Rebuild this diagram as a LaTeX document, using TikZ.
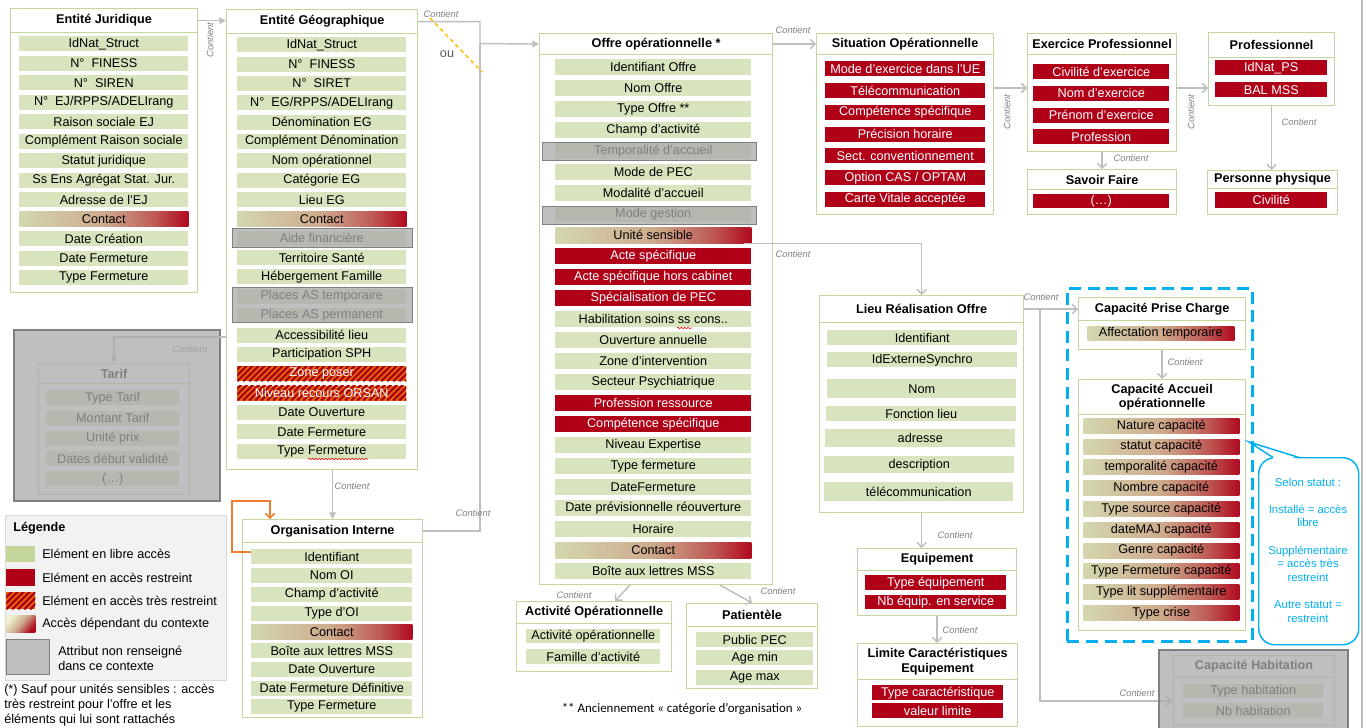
\documentclass[tikz,border=0pt]{standalone}
\usepackage{fontspec}
\setmainfont{Liberation Sans}
\newfontfamily\carlfont{Carlito}
\usetikzlibrary{arrows.meta,calc,decorations.pathmorphing}
\definecolor{cgreen}{RGB}{215,228,189}
\definecolor{cgreenl}{RGB}{196,215,155}
\definecolor{cred}{RGB}{176,0,24}
\definecolor{corange}{RGB}{228,108,10}
\definecolor{cborder}{RGB}{195,214,155}
\definecolor{cline}{RGB}{190,190,190}
\definecolor{clbl}{RGB}{128,128,128}
\definecolor{covgray}{RGB}{170,170,170}
\definecolor{covborder}{RGB}{128,128,128}
\definecolor{ccyan}{RGB}{0,176,240}
\definecolor{cyel}{RGB}{255,192,0}
\definecolor{corg}{RGB}{237,125,49}
\definecolor{clegbg}{RGB}{242,242,242}
\definecolor{clegbd}{RGB}{217,217,217}
\definecolor{cgraysw}{RGB}{191,191,191}
\definecolor{ctx0}{RGB}{212,215,175}
\definecolor{ctx1}{RGB}{205,170,140}
\definecolor{ctx2}{RGB}{190,90,85}
\definecolor{ctx3}{RGB}{176,10,30}
\definecolor{cpale}{RGB}{240,240,210}
\pgfdeclarehorizontalshading{ctx}{100bp}{color(0bp)=(ctx0); color(25bp)=(ctx0); color(50bp)=(ctx1); color(65bp)=(ctx2); color(75bp)=(ctx3); color(100bp)=(ctx3)}
\pgfdeclarehorizontalshading{ctxleg}{100bp}{color(0bp)=(cpale); color(25bp)=(cpale); color(50bp)=(ctx1); color(75bp)=(ctx3); color(100bp)=(ctx3)}
\newcommand\rfnt{\fontsize{9.5}{11}\selectfont}
\newcommand\bx[7][]{\node[#1, inner sep=0pt, anchor=north west, minimum width={(#5-(#3))*0.75pt}, minimum height={(#6-(#4))*0.75pt}] (#2) at (#3,#4) {#7};}
\newcommand\rowlist[7]{%
  \foreach \st/\tx [count=\ii from 0] in {#7}{%
    \pgfmathsetmacro\yy{#4+\ii*#5}%
    \pgfmathsetmacro\yb{\yy+#6}%
    \expandafter\bx\expandafter[\st]{#1\ii}{#2}{\yy}{#3}{\yb}{\tx}}}
\begin{document}
\begin{tikzpicture}[x=0.75pt,y=-0.75pt,
  conn/.style={draw=cline, line width=1.1pt},
  tri/.style={-{Triangle[length=5pt,width=5pt]}},
  opn/.style={-{Straight Barb[length=3.5pt,width=7pt]}},
  lbl/.style={font=\fontsize{7}{8}\selectfont\itshape, text=clbl, inner sep=0pt},
  bodyb/.style={draw=cborder, fill=white, line width=0.9pt},
  hdr/.style={draw=cborder, fill=white, line width=0.9pt, font=\rfnt\bfseries},
  rowg/.style={fill=cgreen, font=\rfnt},
  rowr/.style={fill=cred, text=white, font=\rfnt},
  rowh/.style={fill=corange, text=white, font=\rfnt,
    path picture={\foreach \k in {0,6,...,240}{\draw[cred, line width=1.7pt] ($(path picture bounding box.south west)+(\k-30,0)$) -- ++(30,-30);}}},
  rowc/.style={shading=ctx, font=\rfnt},
  ov/.style={fill=covgray, fill opacity=0.75, draw=covborder, line width=1.1pt},
  ovbig/.style={fill=covgray, fill opacity=0.75, draw=covborder, line width=1.5pt},
  capd/.style={draw=ccyan, line width=2.2pt, dash pattern=on 9pt off 5pt},
  callout/.style={draw=ccyan, line width=1.1pt, rounded corners=12pt, fill=white},
  calltxt/.style={font=\fontsize{8.5}{10.2}\selectfont, text=ccyan, align=center},
  legtxt/.style={font=\rfnt, anchor=west, inner sep=0pt},
  squig/.style={draw=red, line width=0.4pt, decorate, decoration={snake, amplitude=0.6pt, segment length=2.5pt}},
  ydash/.style={draw=cyel, line width=1.1pt, dash pattern=on 3pt off 2.5pt},
]
\useasboundingbox (0,0) rectangle (1367,728);
\fill[white] (0,0) rectangle (1367,728);
\coordinate (rtop) at (1362,0); \coordinate (rbot) at (1362,728);
\draw[cline, line width=0.8pt] (rtop) -- (rbot);

% ---------- Entite Juridique
\bx[bodyb]{ejb}{10}{32}{197}{292}{}
\bx[hdr]{ejh}{10}{8}{197}{32}{Entité Juridique}
\rowlist{ej}{19}{188}{36}{19.5}{15}{rowg/IdNat\_Struct, rowg/N°~~FINESS, rowg/N°~~SIREN, rowg/{N°~~EJ/RPPS/ADELIrang}, rowg/Raison sociale EJ, rowg/Complément Raison sociale, rowg/Statut juridique, rowg/Ss Ens Agrégat Stat. Jur., rowg/Adresse de l’EJ, rowc/Contact, rowg/Date Création, rowg/Date Fermeture, rowg/Type Fermeture}

% ---------- Entite Geographique
\bx[bodyb]{egb}{226}{33}{417}{469}{}
\bx[hdr]{egh}{226}{9}{417}{33}{Entité Géographique}
\rowlist{eg}{237}{406}{37}{19.35}{15}{rowg/IdNat\_Struct, rowg/N°~~FINESS, rowg/N°~~SIRET, rowg/{N°~~EG/RPPS/ADELIrang}, rowg/Dénomination EG, rowg/Complément Dénomination, rowg/Nom opérationnel, rowg/Catégorie EG, rowg/Lieu EG, rowc/Contact, rowg/Aide financière, rowg/Territoire Santé, rowg/Hébergement Famille, rowg/Places AS temporaire, rowg/Places AS permanent, rowg/Accessibilité lieu, rowg/Participation SPH, rowh/Zone poser, rowh/Niveau recours ORSAN, rowg/Date Ouverture, rowg/Date Fermeture, rowg/Type Fermeture}
\bx[ov]{egov1}{232}{228}{412}{247}{}
\bx[ov]{egov2}{232}{287}{412}{322}{}
\coordinate (sq1a) at (308,459); \coordinate (sq1b) at (368,459);
\draw[squig] (sq1a) -- (sq1b);

% ---------- Offre operationnelle
\bx[bodyb]{offb}{539}{54}{772}{584}{}
\bx[hdr]{offh}{539}{33}{772}{54}{Offre opérationnelle *}
\rowlist{off}{555}{751}{59}{21}{16}{rowg/Identifiant Offre, rowg/Nom Offre, rowg/Type Offre **, rowg/Champ d'activité, rowg/Temporalité d’accueil, rowg/Mode de PEC, rowg/Modalité d'accueil, rowg/Mode gestion, rowc/Unité sensible, rowr/Acte spécifique, rowr/Acte spécifique hors cabinet, rowr/Spécialisation de PEC, rowg/Habilitation soins ss cons.., rowg/Ouverture annuelle, rowg/Zone d’intervention, rowg/Secteur Psychiatrique, rowr/Profession ressource, rowr/Compétence spécifique, rowg/Niveau Expertise, rowg/Type fermeture, rowg/DateFermeture, rowg/Date prévisionnelle réouverture, rowg/Horaire, rowc/Contact, rowg/Boîte aux lettres MSS}
\bx[ov]{offov1}{542}{142}{756}{160}{}
\bx[ov]{offov2}{542}{206}{756}{224}{}
\coordinate (sq2a) at (677,328); \coordinate (sq2b) at (692,328);
\draw[squig] (sq2a) -- (sq2b);

% ---------- Situation operationnelle
\bx[bodyb]{sitb}{816}{54}{993}{214}{}
\bx[hdr]{sith}{816}{33}{993}{54}{Situation Opérationnelle}
\rowlist{sit}{825}{985}{61}{21.8}{15}{rowr/Mode d’exercice dans l’UE, rowr/Télécommunication, rowr/Compétence spécifique, rowr/Précision horaire, rowr/Sect. conventionnement, rowr/{Option CAS / OPTAM}, rowr/Carte Vitale acceptée}

% ---------- Exercice professionnel
\bx[bodyb]{exb}{1027}{54}{1176}{151}{}
\bx[hdr]{exh}{1027}{33}{1176}{54}{Exercice Professionnel}
\rowlist{ex}{1033}{1169}{64}{21.7}{15}{rowr/Civilité d’exercice, rowr/Nom d’exercice, rowr/Prénom d’exercice, rowr/Profession}
\bx[bodyb]{svb}{1027}{189}{1176}{214}{}
\bx[hdr]{svh}{1027}{169}{1176}{189}{Savoir Faire}
\bx[rowr]{sv0}{1033}{194}{1169}{208}{(…)}

% ---------- Professionnel
\bx[bodyb]{prb}{1208}{57}{1334}{105}{}
\bx[hdr]{prh}{1208}{32}{1334}{57}{Professionnel}
\rowlist{pr}{1215}{1327}{60}{22}{15}{rowr/IdNat\_PS, rowr/BAL MSS}
\bx[bodyb]{ppb}{1207}{188}{1337}{214}{}
\bx[hdr]{pph}{1207}{170}{1337}{188}{Personne physique}
\bx[rowr]{pp0}{1215}{192}{1327}{208}{Civilité}

% ---------- Lieu realisation offre
\bx[bodyb]{lrb}{819}{322}{1023}{512}{}
\bx[hdr]{lrh}{819}{295}{1023}{322}{Lieu Réalisation Offre}
\bx[rowg]{lr0}{827}{330}{1017}{345}{Identifiant}
\bx[rowg]{lr1}{827}{352}{1017}{367}{IdExterneSynchro}
\bx[rowg]{lr2}{827}{379}{1016}{398}{Nom}
\bx[rowg]{lr3}{826}{406}{1016}{421}{Fonction lieu}
\bx[rowg]{lr4}{825}{429}{1015}{447}{adresse}
\bx[rowg]{lr5}{824}{456}{1014}{473}{description}
\bx[rowg]{lr6}{824}{482}{1013}{501}{télécommunication}

% ---------- Equipement
\bx[bodyb]{eqb}{857}{570}{1016}{615}{}
\bx[hdr]{eqh}{857}{548}{1016}{570}{Equipement}
\bx[rowr]{eq0}{865}{575}{1006}{590}{Type équipement}
\bx[rowr]{eq1}{865}{595}{1006}{609}{Nb équip. en service}
\bx[bodyb]{lmb}{857}{679}{1017}{726}{}
\bx[hdr,align=center]{lmh}{857}{643}{1017}{679}{Limite Caractéristiques\\Equipement}
\bx[rowr]{lm0}{872}{685}{1003}{700}{Type caractéristique}
\bx[rowr]{lm1}{872}{703}{1003}{718}{valeur limite}

% ---------- Capacites
\bx[capd]{capbox}{1066}{287}{1251}{640}{}
\bx[bodyb]{cpb}{1078}{320}{1245}{349}{}
\bx[hdr]{cph}{1078}{297}{1245}{320}{Capacité Prise Charge}
\bx[rowc]{cp0}{1087}{326}{1234}{340}{Affectation temporaire}
\bx[bodyb]{cab}{1078}{414}{1245}{630}{}
\bx[hdr,align=center]{cah}{1078}{379}{1245}{414}{Capacité Accueil\\opérationnelle}
\rowlist{ca}{1083}{1239}{418}{20.8}{15}{rowc/Nature capacité, rowc/statut capacité, rowc/temporalité capacité, rowc/Nombre capacité, rowc/Type source capacité, rowc/dateMAJ capacité, rowc/Genre capacité, rowc/Type Fermeture capacité, rowc/Type lit supplémentaire, rowc/Type crise}

% callout
\bx[callout]{callb}{1258}{457}{1358}{644}{}
\coordinate (calltip) at (1249,442);
\coordinate (callpa) at (1273,457.5);
\coordinate (callpb) at (1299,457.5);
\fill[white] ($(callpa)+(1,1.5)$) -- (calltip) -- ($(callpb)+(-1,1.5)$) -- cycle;
\draw[ccyan, line width=1.1pt] (callpa) -- (calltip) -- (callpb);
\node[calltxt] (calltext) at (1308,550) {Selon statut :\\~\\Installé = accès\\libre\\~\\Supplémentaire\\= accès très\\restreint\\~\\Autre statut =\\restreint};

% ---------- Organisation interne
\bx[bodyb]{oib}{242}{542}{422}{717}{}
\bx[hdr]{oih}{242}{519}{422}{542}{Organisation Interne}
\rowlist{oi}{251}{412}{549}{18.75}{15}{rowg/Identifiant, rowg/Nom OI, rowg/Champ d’activité, rowg/Type d’OI, rowc/Contact, rowg/Boîte aux lettres MSS, rowg/Date Ouverture, rowg/Date Fermeture Définitive, rowg/Type Fermeture}

% ---------- Activite / Patientele
\bx[bodyb]{aob}{516}{623}{671}{671}{}
\bx[hdr]{aoh}{516}{601}{671}{623}{Activité Opérationnelle}
\bx[rowg]{ao0}{526}{629}{660}{643}{Activité opérationnelle}
\bx[rowg]{ao1}{526}{649}{660}{664}{Famille d’activité}
\bx[bodyb]{ptb}{686}{626}{817}{688}{}
\bx[hdr]{pth}{686}{603}{817}{626}{Patientèle}
\bx[rowg]{pt0}{696}{632}{813}{647}{Public PEC}
\bx[rowg]{pt1}{696}{650}{813}{665}{Age min}
\bx[rowg]{pt2}{696}{670}{813}{685}{Age max}
\node[font=\carlfont\fontsize{9.7}{11}\selectfont] (fn2) at (682,709) {** Anciennement « catégorie d’organisation »};

% ---------- Connectors
\coordinate (junc) at (480,43.5);
\draw[conn,tri] (ejh.east) -- (egh.west |- ejh.east);
\draw[conn,tri] (egh.east) -| (junc) -- (offh.west);
\draw[conn] (oih.east) -| (junc);
\draw[conn,tri] (oih.north |- egb.south) -- (oih.north);
\coordinate (ya) at (430,18); \coordinate (yb) at (482,72);
\draw[ydash] (ya) -- (yb);
\node[font=\rfnt, text=black!65] (ou) at (447,54) {ou};
\draw[conn,opn] (offh.east) -- (sith.west);
\coordinate (s2e) at (993,88);
\draw[conn,opn] (s2e) -- (exb.west |- s2e);
\draw[conn,opn] (exb.east |- s2e) -- (prb.west |- s2e);
\draw[conn,opn] (exb.south) -- (svh.north);
\draw[conn,opn] (prb.south) -- (prb.south |- pph.north);
\draw[conn,opn] ($(off8.south east)+(-8,0)$) -| (lrh.north);
\draw[conn,opn] (lrb.south) -- (lrb.south |- eqh.north);
\draw[conn,opn] (eqb.south) -- (eqb.south |- lmh.north);
\draw[conn,opn] (lrh.east) -- (cph.west |- lrh.east);
\coordinate (lbr) at (1040,308.5);
\coordinate (chin) at (1172,701);
\draw[conn,opn] (lbr) |- (chin);
\draw[conn,opn] (cpb.south) -- (cpb.south |- cah.north);
\coordinate (oa) at (630,585);
\draw[conn,opn] (oa) -- ($(aoh.north)+(21,0)$);
\coordinate (op) at (720,585);
\draw[conn,opn] (op) -- (pth.north);
\coordinate (loopa) at (251,552); \coordinate (loopb) at (270,519);
\draw[corg, line width=1.1pt, opn] (loopa) -- (232,552) -- (232,501) -| (loopb);

% labels
\node[lbl, rotate=90] (l1) at (210,40) {Contient};
\node[lbl] (l2) at (441,14) {Contient};
\node[lbl] (l3) at (793,30) {Contient};
\node[lbl, rotate=90] (l4) at (1007,112) {Contient};
\node[lbl, rotate=90] (l5) at (1191,112) {Contient};
\node[lbl] (l6) at (1131,158) {Contient};
\node[lbl] (l7) at (1299,122) {Contient};
\node[lbl] (l8) at (793,254) {Contient};
\node[lbl] (l9) at (1041,297) {Contient};
\node[lbl] (l10) at (1185,362) {Contient};
\node[lbl] (l11) at (955,535) {Contient};
\node[lbl] (l12) at (960,630) {Contient};
\node[lbl] (l13) at (1137,693) {Contient};
\node[lbl] (l15) at (352,486) {Contient};
\node[lbl] (l16) at (473,513) {Contient};
\node[lbl] (l17) at (574,595) {Contient};
\node[lbl] (l18) at (778,591) {Contient};

% ---------- Capacite habitation (grayed)
\bx[bodyb]{chb}{1173}{677}{1334}{725}{}
\bx[hdr]{chh}{1173}{655}{1334}{677}{Capacité Habitation}
\bx[rowg]{ch0}{1183}{684}{1323}{698}{Type habitation}
\bx[rowg]{ch1}{1183}{703}{1323}{718}{Nb habitation}
\bx[ovbig]{chov}{1158}{649}{1347}{740}{}

% ---------- Tarif (grayed)
\bx[bodyb]{tab}{38}{383}{189}{494}{}
\bx[hdr]{tah}{38}{363}{189}{383}{Tarif}
\rowlist{ta}{46}{179}{390}{20.3}{15}{rowg/Type Tarif, rowg/Montant Tarif, rowg/Unité prix, rowg/Dates début validité, rowg/(…)}
\coordinate (tsrc) at (226,337);
\draw[conn,tri] (tsrc) -| (tah.north);
\node[lbl] (l14) at (190,349) {Contient};
\bx[ovbig]{taov}{13}{329}{219}{500}{}
\coordinate (tedge) at (219,337);
\draw[conn] (tsrc) -- (tedge);

% ---------- Legend
\bx[draw=clegbd, fill=clegbg, line width=0.8pt]{leg}{5}{515}{226}{680}{}
\node[font=\rfnt\bfseries, anchor=west, inner sep=0pt] (legt) at (13,528) {Légende};
\bx[fill=cgreenl]{lg1}{6}{546}{35}{562}{}
\bx[fill=cred]{lg2}{6}{569}{35}{586}{}
\bx[rowh]{lg3}{6}{592}{35}{609}{}
\bx[shading=ctxleg, shading angle=-40]{lg4}{6}{615}{35}{632}{}
\bx[fill=cgraysw, draw=covborder, line width=1.1pt]{lg5}{6}{639}{49}{674}{}
\node[legtxt] (lt1) at (42,554) {Elément en libre accès};
\node[legtxt] (lt2) at (42,578) {Elément en accès restreint};
\node[legtxt] (lt3) at (42,601) {Elément en accès très restreint};
\node[legtxt] (lt4) at (42,624) {Accès dépendant du contexte};
\node[legtxt, align=left] (lt5) at (58,658.5) {Attribut non renseigné\\dans ce contexte};
\node[legtxt, align=left] (fn1) at (4,705) {(*) Sauf pour unités sensibles : accès\\très restreint pour l’offre et les\\éléments qui lui sont rattachés};
\end{tikzpicture}
\end{document}
